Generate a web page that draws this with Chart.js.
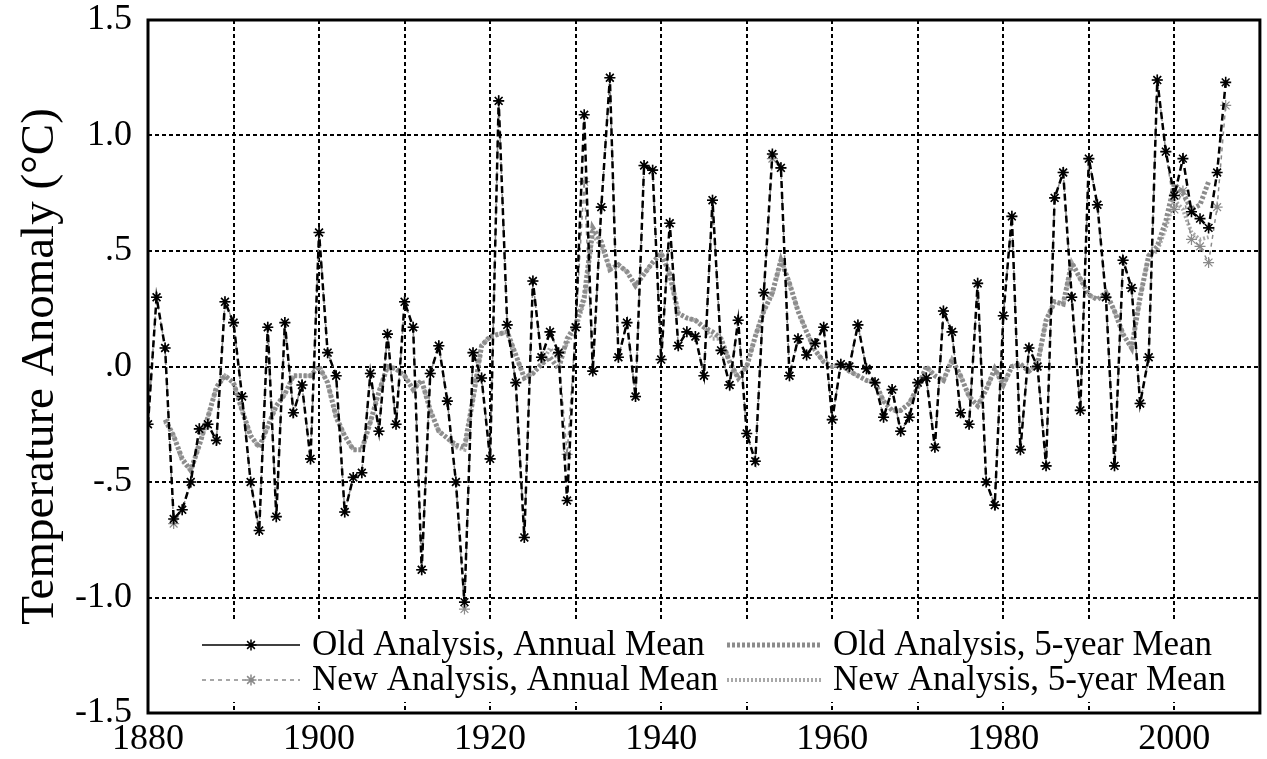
<!DOCTYPE html>
<html>
<head>
<meta charset="utf-8">
<script src="https://cdn.jsdelivr.net/npm/chart.js@4.4.0/dist/chart.umd.min.js"></script>
<style>
  html, body { margin: 0; padding: 0; background: #fff; }
  #wrap { width: 1267px; height: 759px; }
</style>
</head>
<body>
<div id="wrap"><canvas id="tempChart"></canvas></div>
<script>
// years 1880..2006
var years = [];
for (var yr = 1880; yr <= 2006; yr++) years.push(yr);

var oldAnnual = [
  -0.25, 0.30, 0.08, -0.66, -0.62, -0.50, -0.27, -0.25, -0.32, 0.28,   // 1880s
  0.19, -0.13, -0.50, -0.71, 0.17, -0.65, 0.19, -0.20, -0.08, -0.40,   // 1890s
  0.58, 0.06, -0.04, -0.63, -0.48, -0.46, -0.03, -0.28, 0.14, -0.25,   // 1900s
  0.28, 0.17, -0.88, -0.03, 0.09, -0.15, -0.50, -1.02, 0.06, -0.05,    // 1910s
  -0.40, 1.15, 0.18, -0.07, -0.74, 0.37, 0.04, 0.15, 0.06, -0.58,      // 1920s
  0.17, 1.09, -0.02, 0.69, 1.25, 0.04, 0.19, -0.13, 0.87, 0.85,        // 1930s
  0.03, 0.62, 0.09, 0.15, 0.13, -0.04, 0.72, 0.07, -0.08, 0.20,        // 1940s
  -0.29, -0.41, 0.32, 0.92, 0.86, -0.04, 0.12, 0.05, 0.10, 0.17,       // 1950s
  -0.23, 0.01, 0.00, 0.18, -0.01, -0.07, -0.22, -0.10, -0.28, -0.22,   // 1960s
  -0.07, -0.05, -0.35, 0.24, 0.15, -0.20, -0.25, 0.36, -0.50, -0.60,   // 1970s
  0.22, 0.65, -0.36, 0.08, 0.00, -0.43, 0.73, 0.84, 0.30, -0.19,       // 1980s
  0.90, 0.70, 0.30, -0.43, 0.46, 0.34, -0.16, 0.04, 1.24, 0.93,        // 1990s
  0.74, 0.90, 0.67, 0.64, 0.60, 0.84, 1.23                             // 2000s
];

var newAnnual = [
  -0.25, 0.30, 0.08, -0.68, -0.62, -0.50, -0.27, -0.25, -0.32, 0.28,
  0.19, -0.13, -0.50, -0.71, 0.17, -0.65, 0.19, -0.20, -0.08, -0.40,
  0.58, 0.06, -0.04, -0.63, -0.48, -0.46, -0.03, -0.28, 0.14, -0.25,
  0.28, 0.17, -0.88, -0.03, 0.09, -0.15, -0.50, -1.05, 0.06, -0.05,
  -0.40, 1.15, 0.18, -0.07, -0.74, 0.37, 0.04, 0.15, 0.06, -0.38,
  0.17, 0.80, -0.02, 0.69, 1.25, 0.04, 0.19, -0.13, 0.87, 0.85,
  0.03, 0.62, 0.09, 0.15, 0.13, -0.04, 0.72, 0.07, -0.08, 0.20,
  -0.29, -0.41, 0.32, 0.90, 0.86, -0.04, 0.12, 0.05, 0.10, 0.17,
  -0.23, 0.01, 0.00, 0.18, -0.01, -0.07, -0.22, -0.10, -0.28, -0.22,
  -0.07, -0.05, -0.35, 0.24, 0.15, -0.20, -0.25, 0.36, -0.50, -0.60,
  0.22, 0.65, -0.36, 0.08, 0.00, -0.43, 0.73, 0.84, 0.30, -0.19,
  0.90, 0.70, 0.30, -0.43, 0.46, 0.34, -0.16, 0.04, 1.24, 0.93,
  0.68, 0.76, 0.55, 0.52, 0.45, 0.69, 1.13
];

// 5-year running means, 1882..2004
var fiveYears = [];
for (var fy = 1882; fy <= 2004; fy++) fiveYears.push(fy);

var oldFiveYear = [
  -0.23, -0.30, -0.40, -0.45, -0.34, -0.22, -0.09, -0.04,              // 1882-89
  -0.07, -0.19, -0.30, -0.35, -0.26, -0.17, -0.12, -0.04, -0.04, -0.04,
  0.00, -0.07, -0.22, -0.30, -0.36, -0.36, -0.24, -0.11, 0.00, -0.01,
  -0.04, -0.10, -0.06, -0.19, -0.28, -0.31, -0.34, -0.35, -0.14, 0.09,
  0.13, 0.14, 0.15, 0.05, -0.05, -0.03, 0.01, 0.04, -0.01, 0.12,
  0.18, 0.30, 0.60, 0.54, 0.42, 0.44, 0.41, 0.35, 0.40, 0.45,
  0.49, 0.40, 0.23, 0.21, 0.20, 0.17, 0.15, 0.12, 0.02, -0.05,
  0.00, 0.13, 0.24, 0.32, 0.46, 0.36, 0.24, 0.15, 0.07, 0.02,
  0.00, 0.01, -0.02, -0.04, -0.06, -0.07, -0.15, -0.19, -0.19, -0.16,
  -0.09, 0.00, -0.04, -0.06, 0.03, -0.04, -0.13, -0.17, -0.10, -0.01,
  -0.08, 0.00, 0.01, -0.02, 0.01, 0.20, 0.28, 0.27, 0.45, 0.38,
  0.31, 0.29, 0.32, 0.24, 0.14, 0.08, 0.30, 0.48, 0.52, 0.63,
  0.79, 0.75, 0.68, 0.70, 0.80
];

var newFiveYear = [
  -0.24, -0.30, -0.41, -0.45, -0.34, -0.22, -0.09, -0.04,
  -0.07, -0.19, -0.30, -0.35, -0.26, -0.17, -0.12, -0.04, -0.04, -0.04,
  0.00, -0.07, -0.22, -0.30, -0.36, -0.36, -0.24, -0.11, 0.00, -0.01,
  -0.04, -0.10, -0.06, -0.19, -0.28, -0.31, -0.35, -0.36, -0.14, 0.09,
  0.13, 0.14, 0.15, 0.05, -0.05, -0.03, 0.01, 0.08, 0.03, 0.10,
  0.16, 0.28, 0.57, 0.52, 0.42, 0.44, 0.41, 0.35, 0.40, 0.45,
  0.49, 0.40, 0.23, 0.21, 0.20, 0.17, 0.12, 0.12, 0.02, -0.05,
  0.00, 0.13, 0.24, 0.31, 0.46, 0.36, 0.24, 0.15, 0.07, 0.02,
  0.00, 0.01, -0.02, -0.04, -0.06, -0.07, -0.15, -0.19, -0.19, -0.16,
  -0.09, 0.00, -0.04, -0.06, 0.03, -0.04, -0.13, -0.17, -0.10, -0.01,
  -0.08, 0.00, 0.01, -0.02, 0.01, 0.20, 0.28, 0.27, 0.45, 0.38,
  0.31, 0.29, 0.32, 0.24, 0.14, 0.08, 0.30, 0.48, 0.50, 0.60,
  0.72, 0.68, 0.58, 0.55, 0.56
];

var xTickValues = [1880, 1900, 1920, 1940, 1960, 1980, 2000];
var xTickLabels = ['1880', '1900', '1920', '1940', '1960', '1980', '2000'];
var yTickValues = [-1.5, -1.0, -0.5, 0, 0.5, 1.0, 1.5];
var yTickLabels = ['-1.5', '-1.0', '-.5', '.0', '.5', '1.0', '1.5'];

var legendLabels = [
  'Old Analysis, Annual Mean', 'New Analysis, Annual Mean',
  'Old Analysis, 5-year Mean', 'New Analysis, 5-year Mean'
];

function toPoints(xs, ys) {
  return xs.map(function (x, i) { return { x: x, y: ys[i] }; });
}

var serif = "'Liberation Serif', 'DejaVu Serif', serif";

// white legend box inside the plot + black frame
var frameAndLegend = {
  id: 'frameAndLegend',
  afterDatasetsDraw: function (chart) {
    var ctx = chart.ctx, a = chart.chartArea;
    ctx.save();
    ctx.fillStyle = '#fff';
    ctx.fillRect(a.left + 12, a.bottom - 91, a.right - a.left - 25, 80);

    var cols = [
      { x0: a.left + 54, x1: a.left + 152, tx: a.left + 164 },
      { x0: a.left + 579, x1: a.left + 674, tx: a.left + 685 }
    ];
    var rows = [a.bottom - 68, a.bottom - 33];
    // dataset index -> [col,row]
    var slots = [[0, 0], [0, 1], [1, 0], [1, 1]];
    ctx.font = '35px ' + serif;
    ctx.textBaseline = 'middle';
    ctx.textAlign = 'left';
    chart.data.datasets.forEach(function (ds, i) {
      var c = cols[slots[i][0]], y = rows[slots[i][1]];
      ctx.save();
      ctx.strokeStyle = ds.borderColor;
      ctx.lineWidth = i === 0 ? 1.5 : ds.borderWidth;
      ctx.setLineDash(i === 0 ? [] : (ds.borderDash || []));
      ctx.beginPath();
      ctx.moveTo(c.x0, y);
      ctx.lineTo(c.x1, y);
      ctx.stroke();
      ctx.setLineDash([]);
      if (ds.pointRadius > 0) {
        ctx.strokeStyle = ds.pointBorderColor;
        Chart.helpers.drawPoint(ctx, {
          pointStyle: ds.pointStyle, radius: ds.pointRadius,
          rotation: 0, borderWidth: ds.pointBorderWidth
        }, (c.x0 + c.x1) / 2, y);
      }
      ctx.restore();
      ctx.fillStyle = '#000';
      ctx.fillText(legendLabels[i], c.tx, y + 1);
    });

    ctx.strokeStyle = '#000';
    ctx.lineWidth = 3;
    ctx.setLineDash([]);
    ctx.strokeRect(a.left, a.top, a.right - a.left, a.bottom - a.top);
    ctx.restore();
  }
};

var ctx = document.getElementById('tempChart').getContext('2d');
var tempChart = new Chart(ctx, {
  type: 'line',
  data: {
    datasets: [{
      label: legendLabels[0],
      data: toPoints(years, oldAnnual),
      borderColor: '#000',
      borderWidth: 2.5,
      borderDash: [7, 4],
      pointStyle: 'star',
      pointRadius: 5.5,
      pointBorderColor: '#000',
      pointBorderWidth: 1.6,
      tension: 0
    }, {
      label: legendLabels[1],
      data: toPoints(years, newAnnual),
      borderColor: '#8a8a8a',
      borderWidth: 1.5,
      borderDash: [4, 4],
      pointStyle: 'star',
      pointRadius: 5.5,
      pointBorderColor: '#8a8a8a',
      pointBorderWidth: 1.2,
      tension: 0
    }, {
      label: legendLabels[2],
      data: toPoints(fiveYears, oldFiveYear),
      borderColor: '#8c8c8c',
      borderWidth: 5,
      borderDash: [3, 2],
      pointRadius: 0,
      tension: 0
    }, {
      label: legendLabels[3],
      data: toPoints(fiveYears, newFiveYear),
      borderColor: '#a8a8a8',
      borderWidth: 4,
      borderDash: [2, 2],
      pointRadius: 0,
      tension: 0
    }]
  },
  options: {
    responsive: true,
    maintainAspectRatio: false,
    animation: false,
    layout: { padding: { top: 20, right: 3, left: 0, bottom: 0 } },
    plugins: {
      legend: { display: false },
      tooltip: { enabled: false },
      title: { display: false }
    },
    scales: {
      x: {
        type: 'linear',
        min: 1880,
        max: 2010,
        afterFit: function (s) { s.height = 46; s.paddingRight = 0; s.paddingLeft = 0; },
        grid: { color: '#000', lineWidth: 2, drawTicks: false },
        border: { display: false, dash: [4, 3] },
        ticks: {
          stepSize: 10,
          autoSkip: false,
          maxRotation: 0,
          padding: 5,
          color: '#000',
          font: { family: serif, size: 36 },
          callback: function (v) {
            var k = xTickValues.indexOf(v);
            return k >= 0 ? xTickLabels[k] : '';
          }
        }
      },
      y: {
        min: -1.5,
        max: 1.5,
        afterFit: function (s) { s.width = 148; s.paddingTop = 0; s.paddingBottom = 0; },
        grid: { color: '#000', lineWidth: 2, drawTicks: false },
        border: { display: false, dash: [4, 3] },
        title: {
          display: true,
          text: 'Temperature Anomaly (°C)',
          color: '#000',
          font: { family: serif, size: 47 },
          padding: { top: 12, bottom: 0 }
        },
        ticks: {
          stepSize: 0.5,
          padding: 16,
          color: '#000',
          font: { family: serif, size: 36 },
          callback: function (v) {
            for (var k = 0; k < yTickValues.length; k++) {
              if (Math.abs(yTickValues[k] - v) < 1e-6) return yTickLabels[k];
            }
            return '';
          }
        }
      }
    }
  },
  plugins: [frameAndLegend]
});
</script>
</body>
</html>
